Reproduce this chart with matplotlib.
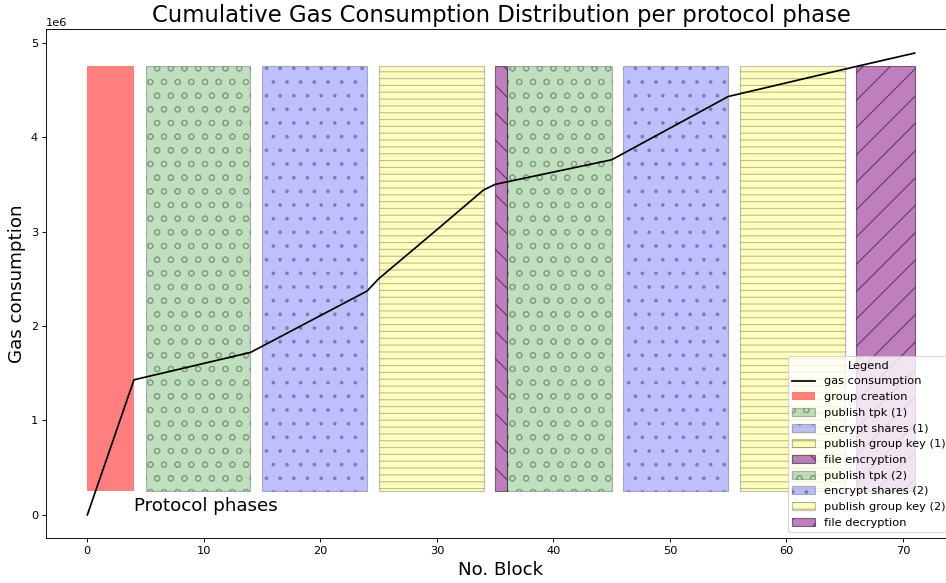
import matplotlib
matplotlib.use("Agg")
import matplotlib.pyplot as plt

# cumulative gas consumption vertices (block, gas)
blocks = [0, 4, 14, 24, 25, 30, 34, 35, 45, 55, 65, 71]
gas = [0, 1.43e6, 1.72e6, 2.37e6, 2.50e6, 3.02e6, 3.44e6, 3.50e6, 3.76e6, 4.43e6, 4.72e6, 4.89e6]

# protocol phases
phase_labels = [
    "group creation",
    "publish tpk (1)",
    "encrypt shares (1)",
    "publish group key (1)",
    "file encryption",
    "publish tpk (2)",
    "encrypt shares (2)",
    "publish group key (2)",
    "file decryption",
]
phase_start = [0, 5, 15, 25, 35, 36, 46, 56, 66]
phase_end = [4, 14, 24, 34, 36, 45, 55, 65, 71]
phase_colors = ["red", "green", "blue", "yellow", "purple", "green", "blue", "yellow", "purple"]
phase_hatches = [None, "o", ".", "--", "\\", "o", ".", "--", "/"]
phase_alpha = [0.5, 0.25, 0.25, 0.25, 0.5, 0.25, 0.25, 0.25, 0.5]
band_bottom = 0.25e6
band_top = 4.75e6

DPI = 82
fig = plt.figure(figsize=(946 / DPI, 583 / DPI), dpi=DPI)
ax = fig.add_axes([46 / 946, 45 / 583, 910 / 946, 509 / 583])

line, = ax.plot(blocks, gas, color="black", label="gas consumption")

handles = [line]
for lab, s, e, c, h, a in zip(phase_labels, phase_start, phase_end,
                              phase_colors, phase_hatches, phase_alpha):
    if h is None:
        bars = ax.bar(s, band_top - band_bottom, width=e - s, bottom=band_bottom,
                      align="edge", color=c, alpha=a, label=lab)
    else:
        bars = ax.bar(s, band_top - band_bottom, width=e - s, bottom=band_bottom,
                      align="edge", facecolor=c, edgecolor="black", alpha=a,
                      hatch=h, label=lab)
    handles.append(bars)

ax.text(4, 0, "Protocol phases", fontsize=16, va="bottom", ha="left")

ax.set_xlim(-3.55, 74.55)
ax.set_ylim(-0.245e6, 5.145e6)
ax.set_title("Cumulative Gas Consumption Distribution per protocol phase", fontsize=20)
ax.set_xlabel("No. Block", fontsize=16)
ax.set_ylabel("Gas consumption", fontsize=16)

ax.legend(handles=handles, title="Legend", loc="lower right")

plt.savefig("out.png", dpi=DPI)
